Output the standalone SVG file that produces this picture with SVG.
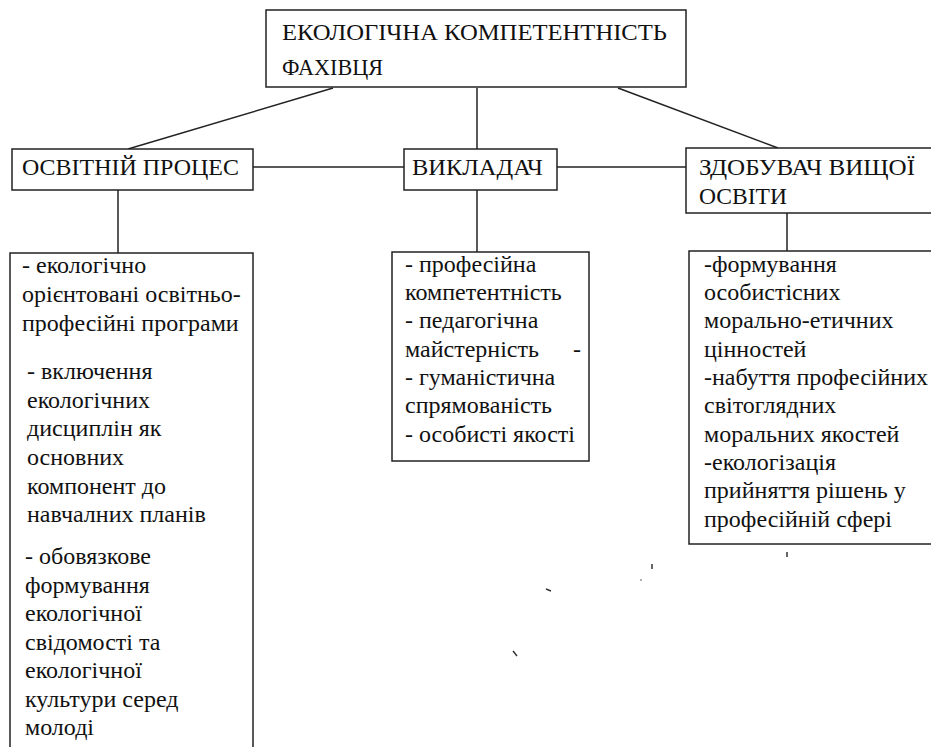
<svg xmlns="http://www.w3.org/2000/svg" width="931" height="747" viewBox="0 0 931 747">
  <style>
    .box { fill: #ffffff; stroke: #222222; stroke-width: 1.5; }
    .ln { stroke: #222222; stroke-width: 1.5; }
    .speck { stroke: #333333; stroke-width: 1.5; }
  </style>
  <rect width="931" height="747" fill="#ffffff"/>

  <!-- connectors -->
  <g id="connectors">
    <line class="ln" x1="333" y1="88" x2="128" y2="149"/>
    <line class="ln" x1="477" y1="88" x2="477" y2="149"/>
    <line class="ln" x1="618" y1="88" x2="778" y2="148"/>
    <line class="ln" x1="253" y1="167" x2="404" y2="167"/>
    <line class="ln" x1="557" y1="167" x2="686" y2="167"/>
    <line class="ln" x1="118" y1="190" x2="118" y2="253"/>
    <line class="ln" x1="477" y1="190" x2="477" y2="252"/>
    <line class="ln" x1="787" y1="213" x2="787" y2="251"/>
  </g>

  <!-- root -->
  <g id="root">
    <rect class="box" x="266" y="10" width="420" height="77"/>
    <text style="font-family:'Liberation Serif',serif !important;font-size:23px;fill:#111111" x="282" y="40" textLength="385" lengthAdjust="spacingAndGlyphs">ЕКОЛОГІЧНА КОМПЕТЕНТНІСТЬ</text>
    <text style="font-family:'Liberation Serif',serif !important;font-size:23px;fill:#111111" x="282" y="75" textLength="101" lengthAdjust="spacingAndGlyphs">ФАХІВЦЯ</text>
  </g>

  <!-- level 2 -->
  <g id="process">
    <rect class="box" x="12" y="149" width="241" height="41"/>
    <text style="font-family:'Liberation Serif',serif !important;font-size:23px;fill:#111111" x="22" y="175" textLength="217" lengthAdjust="spacingAndGlyphs">ОСВІТНІЙ ПРОЦЕС</text>
  </g>
  <g id="teacher">
    <rect class="box" x="404" y="149" width="153" height="41"/>
    <text style="font-family:'Liberation Serif',serif !important;font-size:23px;fill:#111111" x="412" y="175" textLength="131" lengthAdjust="spacingAndGlyphs">ВИКЛАДАЧ</text>
  </g>
  <g id="student">
    <rect class="box" x="686" y="148" width="260" height="65"/>
    <text style="font-family:'Liberation Serif',serif !important;font-size:23px;fill:#111111" x="699" y="175" textLength="216" lengthAdjust="spacingAndGlyphs">ЗДОБУВАЧ ВИЩОЇ</text>
    <text style="font-family:'Liberation Serif',serif !important;font-size:23px;fill:#111111" x="699" y="204" textLength="88" lengthAdjust="spacingAndGlyphs">ОСВІТИ</text>
  </g>

  <!-- level 3 -->
  <g id="process-items">
    <rect class="box" x="10" y="253" width="243" height="510"/>
    <text style="font-family:'Liberation Serif',serif !important;font-size:24px;fill:#111111" x="22" y="273">- екологічно</text>
    <text style="font-family:'Liberation Serif',serif !important;font-size:24px;fill:#111111" x="22" y="302">орієнтовані освітньо-</text>
    <text style="font-family:'Liberation Serif',serif !important;font-size:24px;fill:#111111" x="22" y="331">професійні програми</text>
    <text style="font-family:'Liberation Serif',serif !important;font-size:24px;fill:#111111" x="27" y="379">- включення</text>
    <text style="font-family:'Liberation Serif',serif !important;font-size:24px;fill:#111111" x="27" y="408">екологічних</text>
    <text style="font-family:'Liberation Serif',serif !important;font-size:24px;fill:#111111" x="27" y="436">дисциплін як</text>
    <text style="font-family:'Liberation Serif',serif !important;font-size:24px;fill:#111111" x="27" y="465">основних</text>
    <text style="font-family:'Liberation Serif',serif !important;font-size:24px;fill:#111111" x="27" y="494">компонент до</text>
    <text style="font-family:'Liberation Serif',serif !important;font-size:24px;fill:#111111" x="27" y="522">навчалних планів</text>
    <text style="font-family:'Liberation Serif',serif !important;font-size:24px;fill:#111111" x="25" y="564">- обовязкове</text>
    <text style="font-family:'Liberation Serif',serif !important;font-size:24px;fill:#111111" x="25" y="593">формування</text>
    <text style="font-family:'Liberation Serif',serif !important;font-size:24px;fill:#111111" x="25" y="621">екологічної</text>
    <text style="font-family:'Liberation Serif',serif !important;font-size:24px;fill:#111111" x="25" y="650">свідомості та</text>
    <text style="font-family:'Liberation Serif',serif !important;font-size:24px;fill:#111111" x="25" y="678">екологічної</text>
    <text style="font-family:'Liberation Serif',serif !important;font-size:24px;fill:#111111" x="25" y="707">культури серед</text>
    <text style="font-family:'Liberation Serif',serif !important;font-size:24px;fill:#111111" x="25" y="735">молоді</text>
  </g>

  <g id="teacher-items">
    <rect class="box" x="392" y="252" width="197" height="209"/>
    <text style="font-family:'Liberation Serif',serif !important;font-size:24px;fill:#111111" x="405" y="272">- професійна</text>
    <text style="font-family:'Liberation Serif',serif !important;font-size:24px;fill:#111111" x="405" y="300">компетентність</text>
    <text style="font-family:'Liberation Serif',serif !important;font-size:24px;fill:#111111" x="405" y="328">- педагогічна</text>
    <text style="font-family:'Liberation Serif',serif !important;font-size:24px;fill:#111111" x="405" y="357">майстерність</text>
    <text style="font-family:'Liberation Serif',serif !important;font-size:24px;fill:#111111" x="573" y="357">-</text>
    <text style="font-family:'Liberation Serif',serif !important;font-size:24px;fill:#111111" x="405" y="385">- гуманістична</text>
    <text style="font-family:'Liberation Serif',serif !important;font-size:24px;fill:#111111" x="405" y="413">спрямованість</text>
    <text style="font-family:'Liberation Serif',serif !important;font-size:24px;fill:#111111" x="405" y="442">- особисті якості</text>
  </g>

  <g id="student-items">
    <rect class="box" x="689" y="251" width="260" height="293"/>
    <text style="font-family:'Liberation Serif',serif !important;font-size:24px;fill:#111111" x="704" y="272">-формування</text>
    <text style="font-family:'Liberation Serif',serif !important;font-size:24px;fill:#111111" x="704" y="300">особистісних</text>
    <text style="font-family:'Liberation Serif',serif !important;font-size:24px;fill:#111111" x="704" y="328">морально-етичних</text>
    <text style="font-family:'Liberation Serif',serif !important;font-size:24px;fill:#111111" x="704" y="357">цінностей</text>
    <text style="font-family:'Liberation Serif',serif !important;font-size:24px;fill:#111111" x="704" y="385">-набуття професійних</text>
    <text style="font-family:'Liberation Serif',serif !important;font-size:24px;fill:#111111" x="704" y="413">світоглядних</text>
    <text style="font-family:'Liberation Serif',serif !important;font-size:24px;fill:#111111" x="704" y="442">моральних якостей</text>
    <text style="font-family:'Liberation Serif',serif !important;font-size:24px;fill:#111111" x="704" y="470">-екологізація</text>
    <text style="font-family:'Liberation Serif',serif !important;font-size:24px;fill:#111111" x="704" y="498">прийняття рішень у</text>
    <text style="font-family:'Liberation Serif',serif !important;font-size:24px;fill:#111111" x="704" y="527">професійній сфері</text>
  </g>

  <!-- small stray marks -->
  <g id="specks">
    <line class="speck" x1="787" y1="552" x2="787" y2="557"/>
    <line class="speck" x1="652" y1="564" x2="652" y2="569"/>
    <line class="speck" x1="640.5" y1="580" x2="641.5" y2="580"/>
    <line class="speck" x1="546" y1="589" x2="551" y2="591"/>
    <line class="speck" x1="513" y1="651" x2="517" y2="656"/>
  </g>
</svg>
